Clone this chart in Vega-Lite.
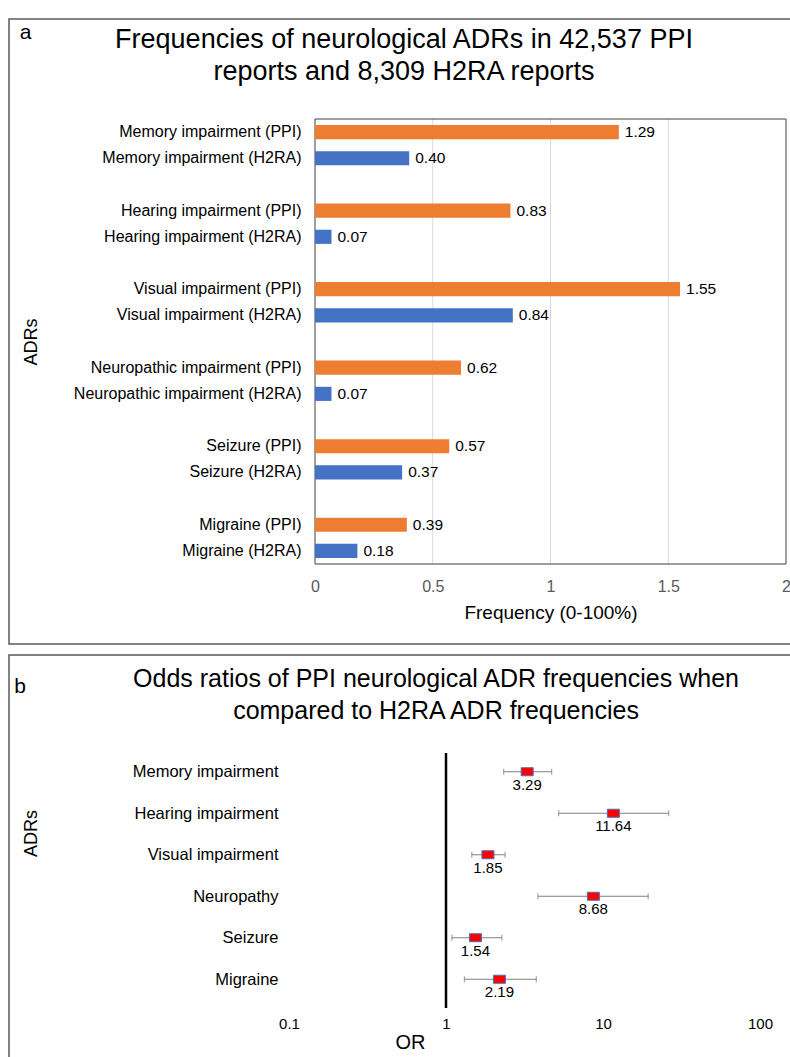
{
  "$schema": "https://vega.github.io/schema/vega-lite/v6.json",
  "padding": {"left": 8, "top": 18, "right": 0, "bottom": 0},
  "config": {
    "font": "Liberation Sans",
    "view": {"stroke": "#595959", "strokeWidth": 1.5},
    "concat": {"spacing": 9}
  },
  "datasets": {
    "freq": [
      {"adr": "Memory impairment (PPI)", "series": "PPI", "value": 1.29},
      {"adr": "Memory impairment (H2RA)", "series": "H2RA", "value": 0.40},
      {"adr": "Hearing impairment (PPI)", "series": "PPI", "value": 0.83},
      {"adr": "Hearing impairment (H2RA)", "series": "H2RA", "value": 0.07},
      {"adr": "Visual impairment (PPI)", "series": "PPI", "value": 1.55},
      {"adr": "Visual impairment (H2RA)", "series": "H2RA", "value": 0.84},
      {"adr": "Neuropathic impairment (PPI)", "series": "PPI", "value": 0.62},
      {"adr": "Neuropathic impairment (H2RA)", "series": "H2RA", "value": 0.07},
      {"adr": "Seizure (PPI)", "series": "PPI", "value": 0.57},
      {"adr": "Seizure (H2RA)", "series": "H2RA", "value": 0.37},
      {"adr": "Migraine (PPI)", "series": "PPI", "value": 0.39},
      {"adr": "Migraine (H2RA)", "series": "H2RA", "value": 0.18}
    ],
    "grid": [{"t": 0.5}, {"t": 1}, {"t": 1.5}],
    "one": [{"k": 1}],
    "odds": [
      {"adr": "Memory impairment", "or": 3.29, "lo": 2.33, "hi": 4.71},
      {"adr": "Hearing impairment", "or": 11.64, "lo": 5.22, "hi": 26.2},
      {"adr": "Visual impairment", "or": 1.85, "lo": 1.46, "hi": 2.38},
      {"adr": "Neuropathy", "or": 8.68, "lo": 3.85, "hi": 19.4},
      {"adr": "Seizure", "or": 1.54, "lo": 1.09, "hi": 2.27},
      {"adr": "Migraine", "or": 2.19, "lo": 1.31, "hi": 3.76}
    ]
  },
  "vconcat": [
    {
      "width": 790,
      "height": 625,
      "title": {
        "text": ["Frequencies of neurological  ADRs in 42,537 PPI", "reports and 8,309 H2RA reports"],
        "fontSize": 27,
        "fontWeight": "normal",
        "lineHeight": 32,
        "offset": -67,
        "anchor": "middle",
        "color": "#000000"
      },
      "layer": [
        {
          "layer": [
            {
              "data": {"name": "grid"},
              "mark": {"type": "rule", "color": "#d9d9d9", "strokeWidth": 1},
              "encoding": {
                "x": {"field": "t", "type": "quantitative", "title": "Frequency (0-100%)", "scale": {"domain": [0, 2], "range": [306, 777]}},
                "y": {"datum": 0, "type": "quantitative", "scale": {"domain": [0, 1], "range": [100, 545]}, "axis": null},
                "y2": {"datum": 1}
              }
            },
            {
              "data": {"name": "one"},
              "mark": {"type": "rect", "filled": false, "stroke": "#404040", "strokeWidth": 1},
              "encoding": {
                "x": {"datum": 0, "type": "quantitative"},
                "x2": {"datum": 2},
                "y": {"datum": 0, "type": "quantitative", "axis": null},
                "y2": {"datum": 1}
              }
            },
            {
              "data": {"name": "one"},
              "mark": {"type": "text", "fontSize": 21, "align": "center", "baseline": "middle", "color": "#000000"},
              "encoding": {
                "x": {"datum": -1.229, "type": "quantitative"},
                "y": {"datum": -0.193, "type": "quantitative", "axis": null},
                "text": {"datum": "a"}
              }
            }
          ]
        },
        {
          "data": {"name": "freq"},
          "encoding": {
            "y": {
              "field": "adr",
              "type": "nominal",
              "sort": null,
              "scale": {
                "type": "band",
                "domain": [
                  "Memory impairment (PPI)", "Memory impairment (H2RA)", " ",
                  "Hearing impairment (PPI)", "Hearing impairment (H2RA)", "  ",
                  "Visual impairment (PPI)", "Visual impairment (H2RA)", "   ",
                  "Neuropathic impairment (PPI)", "Neuropathic impairment (H2RA)", "    ",
                  "Seizure (PPI)", "Seizure (H2RA)", "     ",
                  "Migraine (PPI)", "Migraine (H2RA)"
                ],
                "range": [100, 545],
                "paddingInner": 0.46,
                "paddingOuter": 0.23
              },
              "axis": {
                "orient": "left",
                "offset": -306,
                "domain": false,
                "ticks": false,
                "labelPadding": 14,
                "labelFontSize": 16,
                "labelColor": "#000000",
                "labelLimit": 400,
                "title": "ADRs",
                "titleFontSize": 18,
                "titleFontWeight": "normal",
                "titleColor": "#000000",
                "titleX": -284,
                "titleBaseline": "middle"
              }
            },
            "x": {
              "field": "value",
              "type": "quantitative",
              "scale": {"domain": [0, 2], "range": [306, 777]},
              "axis": {
                "orient": "bottom",
                "offset": -80,
                "values": [0, 0.5, 1, 1.5, 2],
                "format": "~g",
                "domain": false,
                "ticks": false,
                "grid": false,
                "labelFlush": false,
                "labelOverlap": false,
                "labelFontSize": 16,
                "labelColor": "#595959",
                "labelPadding": 14,
                "title": "Frequency (0-100%)",
                "titleFontSize": 19,
                "titleFontWeight": "normal",
                "titleColor": "#000000",
                "titlePadding": 9
              }
            }
          },
          "layer": [
            {
              "mark": {"type": "bar"},
              "encoding": {
                "color": {"field": "series", "type": "nominal", "scale": {"domain": ["PPI", "H2RA"], "range": ["#ED7D31", "#4472C4"]}, "legend": null}
              }
            },
            {
              "mark": {"type": "text", "align": "left", "baseline": "middle", "dx": 6, "fontSize": 15.5, "color": "#000000"},
              "encoding": {
                "text": {"field": "value", "type": "quantitative", "format": ".2f"}
              }
            }
          ]
        }
      ],
      "resolve": {"scale": {"y": "independent"}}
    },
    {
      "width": 790,
      "height": 410,
      "title": {
        "text": ["Odds ratios of PPI neurological ADR  frequencies when", "compared to H2RA ADR frequencies"],
        "fontSize": 25,
        "fontWeight": "normal",
        "lineHeight": 32,
        "offset": -69,
        "dx": 32,
        "anchor": "middle",
        "color": "#000000"
      },
      "layer": [
        {
          "layer": [
            {
              "data": {"name": "one"},
              "mark": {"type": "rule", "color": "#000000", "strokeWidth": 2.5},
              "encoding": {
                "x": {"datum": 1, "type": "quantitative", "scale": {"type": "log", "domain": [0.1, 100], "range": [280, 751]}},
                "y": {"datum": 0, "type": "quantitative", "scale": {"domain": [0, 1], "range": [98, 353]}, "axis": null},
                "y2": {"datum": 1}
              }
            },
            {
              "data": {"name": "one"},
              "mark": {"type": "text", "fontSize": 21, "align": "center", "baseline": "middle", "color": "#000000"},
              "encoding": {
                "x": {"datum": 0.00194, "type": "quantitative"},
                "y": {"datum": -0.259, "type": "quantitative", "axis": null},
                "text": {"datum": "b"}
              }
            }
          ]
        },
        {
          "data": {"name": "odds"},
          "encoding": {
            "y": {
              "field": "adr",
              "type": "nominal",
              "sort": null,
              "scale": {
                "type": "point",
                "domain": ["Memory impairment", "Hearing impairment", "Visual impairment", "Neuropathy", "Seizure", "Migraine"],
                "range": [96, 345],
                "padding": 0.5
              },
              "axis": {
                "orient": "left",
                "offset": -280,
                "domain": false,
                "ticks": false,
                "grid": false,
                "labelPadding": 11,
                "labelFontSize": 16.5,
                "labelColor": "#000000",
                "title": "ADRs",
                "titleFontSize": 18,
                "titleFontWeight": "normal",
                "titleColor": "#000000",
                "titleX": -258,
                "titleY": 178,
                "titleBaseline": "middle"
              }
            }
          },
          "layer": [
            {
              "mark": {"type": "rule", "color": "#7f7f7f", "strokeWidth": 1.2},
              "encoding": {
                "x": {
                  "field": "lo",
                  "type": "quantitative",
                  "scale": {"type": "log", "domain": [0.1, 100], "range": [280, 751]},
                  "axis": {
                    "orient": "bottom",
                    "offset": -57,
                    "values": [0.1, 1, 10, 100],
                    "format": "~g",
                    "domain": false,
                    "ticks": false,
                    "grid": false,
                    "labelFlush": false,
                    "labelOverlap": false,
                    "labelFontSize": 15,
                    "labelColor": "#000000",
                    "labelPadding": 8,
                    "title": "OR",
                    "titleFontSize": 20,
                    "titleFontWeight": "normal",
                    "titleColor": "#000000",
                    "titleX": 401,
                    "titlePadding": 1
                  }
                },
                "x2": {"field": "hi"}
              }
            },
            {
              "mark": {"type": "tick", "orient": "vertical", "size": 6, "thickness": 1.2, "color": "#7f7f7f"},
              "encoding": {"x": {"field": "lo", "type": "quantitative", "title": "OR"}}
            },
            {
              "mark": {"type": "tick", "orient": "vertical", "size": 6, "thickness": 1.2, "color": "#7f7f7f"},
              "encoding": {"x": {"field": "hi", "type": "quantitative", "title": "OR"}}
            },
            {
              "mark": {"type": "point", "shape": "M-1,-0.667L1,-0.667L1,0.667L-1,0.667Z", "size": 144, "filled": true, "fill": "#FF0000", "stroke": "#4a6fb5", "strokeWidth": 1, "opacity": 1},
              "encoding": {"x": {"field": "or", "type": "quantitative", "title": "OR"}}
            },
            {
              "mark": {"type": "text", "align": "center", "baseline": "middle", "dy": 13, "fontSize": 15, "color": "#000000"},
              "encoding": {
                "x": {"field": "or", "type": "quantitative", "title": "OR"},
                "text": {"field": "or", "type": "quantitative", "format": ".2f"}
              }
            }
          ]
        }
      ],
      "resolve": {"scale": {"y": "independent"}}
    }
  ]
}
